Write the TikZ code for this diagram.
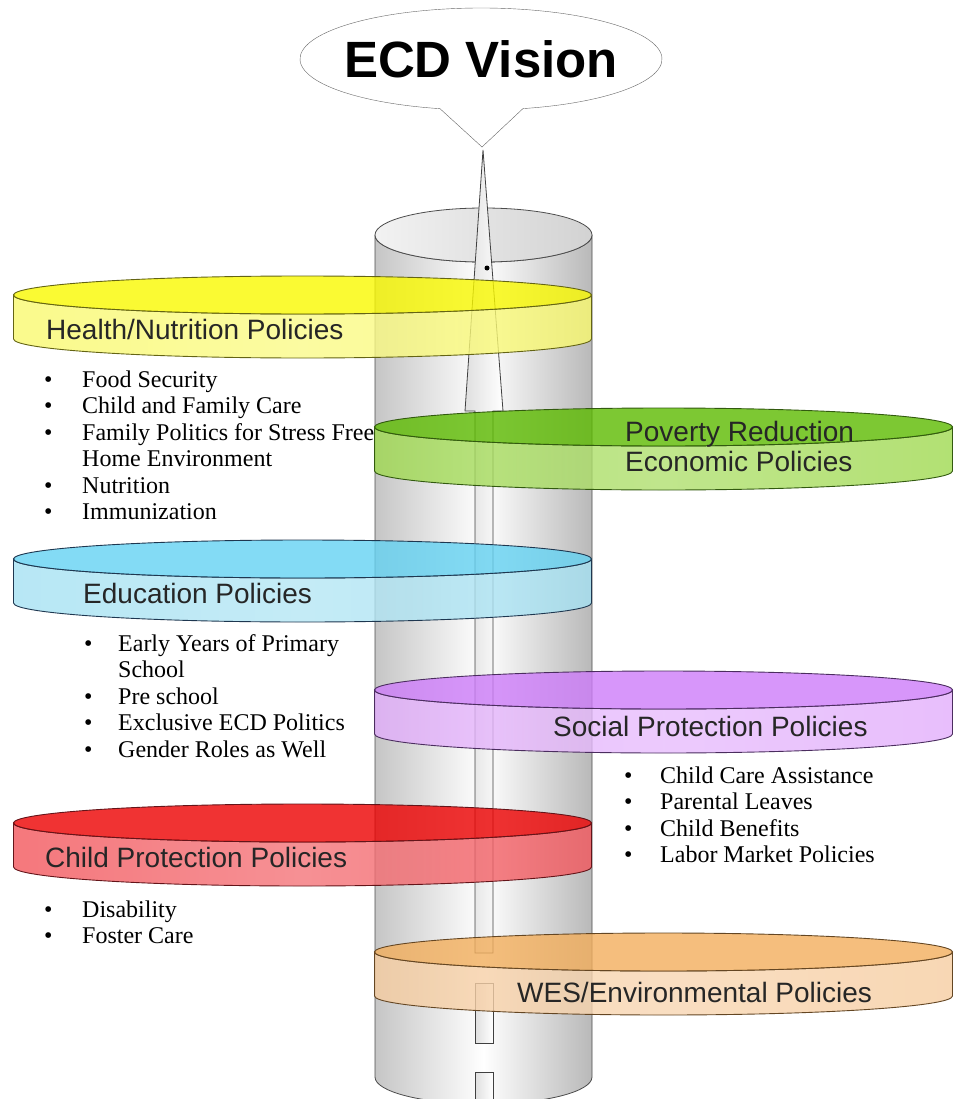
\documentclass[tikz,border=0pt]{standalone}
\usepackage{fontspec}
\setmainfont{Liberation Serif}
\newfontfamily\arialfont{Liberation Sans}
\usetikzlibrary{positioning}

\definecolor{healthtop}{RGB}{249,249,0}
\definecolor{healthband}{RGB}{249,249,111}
\definecolor{healthedge}{RGB}{100,100,20}
\definecolor{povertytop}{RGB}{92,186,0}
\definecolor{povertyband}{RGB}{159,217,80}
\definecolor{povertyedge}{RGB}{50,90,15}
\definecolor{educationtop}{RGB}{100,210,242}
\definecolor{educationband}{RGB}{165,225,242}
\definecolor{educationedge}{RGB}{30,55,80}
\definecolor{socialtop}{RGB}{205,124,249}
\definecolor{socialband}{RGB}{226,174,251}
\definecolor{socialedge}{RGB}{75,45,95}
\definecolor{childtop}{RGB}{236,0,0}
\definecolor{childband}{RGB}{242,86,92}
\definecolor{childedge}{RGB}{100,20,25}
\definecolor{westop}{RGB}{242,174,92}
\definecolor{wesband}{RGB}{246,205,161}
\definecolor{wesedge}{RGB}{100,70,35}

% flat see-through disk: centre of top ellipse (x,y), colour prefix
\newcommand{\policydisk}[3]{%
  \path[draw=#3edge, line width=0.9pt, fill opacity=0.8, left color=#3band, right color=#3band,
      middle color=#3band!82!white]
    (#1-289,#2) -- ++(0,-44) arc[start angle=180, end angle=360, x radius=289pt, y radius=19pt]
    -- ++(0,44) arc[start angle=0, end angle=-180, x radius=289pt, y radius=19pt] -- cycle;
  \path[draw=#3edge, line width=0.9pt, fill=#3top, fill opacity=0.8]
    (#1,#2) ellipse[x radius=289pt, y radius=19pt];
}

\begin{document}
\begin{tikzpicture}[x=1pt, y=1pt,
  disklabel/.style={font=\arialfont\fontsize{28}{30}\selectfont, text=black!85,
    inner sep=0pt, anchor=base west},
  itemlist/.style={font=\fontsize{24}{26.5}\selectfont, inner sep=0pt, anchor=base west},
  rod/.style={draw=black!70, line width=0.8pt, left color=gray!45, right color=gray!55,
    middle color=white},
  shaft/.style={draw=black!75, line width=0.8pt, left color=gray!25, right color=white}
]
\useasboundingbox (0,0) rectangle (954,-1099);

% pillar
\path[rod] (375,-235) -- (375,-1077)
  arc[start angle=180, end angle=360, x radius=108.5pt, y radius=27pt]
  -- (592,-235) arc[start angle=0, end angle=-180, x radius=108.5pt, y radius=27pt] -- cycle;
\path[draw=black!70, line width=0.8pt, left color=gray!10, right color=gray!35]
  (483.5,-235) ellipse[x radius=108.5pt, y radius=27pt];

% arrow up the pillar
\path[shaft] (483,-150) -- (503,-411) -- (493,-411) -- (493,-953)
  -- (475,-953) -- (475,-411) -- (465,-411) -- cycle;
\path[shaft] (475,-983) rectangle (493,-1043);
\path[shaft] (475,-1072) rectangle (493,-1115);
\fill (487,-268) circle[radius=2.5pt];

% vision bubble
\path[draw=black!60, fill=white] ([shift={(283.4:181pt and 51pt)}]481,-59)
  arc[start angle=283.4, end angle=616.9, x radius=181pt, y radius=51pt]
  -- (482,-147) -- cycle;
\node[font=\arialfont\bfseries\fontsize{51}{55}\selectfont, anchor=base, inner sep=0pt]
  (vision) at (481,-78) {ECD Vision};

% bullet lists
\node[itemlist] (healthlist) at (44,-387) {\begin{tabular}[t]{@{}p{38pt}@{}l@{}}
  \textbullet & Food Security\\
  \textbullet & Child and Family Care\\
  \textbullet & Family Politics for Stress Free\\
              & Home Environment\\
  \textbullet & Nutrition\\
  \textbullet & Immunization
\end{tabular}};
\node[itemlist] (educationlist) at (84,-651) {\begin{tabular}[t]{@{}p{34pt}@{}l@{}}
  \textbullet & Early Years of Primary\\
              & School\\
  \textbullet & Pre school\\
  \textbullet & Exclusive ECD Politics\\
  \textbullet & Gender Roles as Well
\end{tabular}};
\node[itemlist] (sociallist) at (624,-783) {\begin{tabular}[t]{@{}p{36pt}@{}l@{}}
  \textbullet & Child Care Assistance\\
  \textbullet & Parental Leaves\\
  \textbullet & Child Benefits\\
  \textbullet & Labor Market Policies
\end{tabular}};
\node[itemlist] (childlist) at (44,-917) {\begin{tabular}[t]{@{}p{38pt}@{}l@{}}
  \textbullet & Disability\\
  \textbullet & Foster Care
\end{tabular}};

% policy disks
\policydisk{302.5}{-295}{health}
\policydisk{663.5}{-427}{poverty}
\policydisk{302.5}{-559}{education}
\policydisk{663.5}{-690}{social}
\policydisk{302.5}{-823}{child}
\policydisk{663.5}{-952}{wes}

\node[disklabel] (healthlabel) at (46,-339) {Health/Nutrition Policies};
\node[disklabel] (povertylabel) at (625,-441) {Poverty Reduction};
\node[disklabel] (economiclabel) at (625,-471) {Economic Policies};
\node[disklabel] (educationlabel) at (83,-603) {Education Policies};
\node[disklabel] (sociallabel) at (553,-736) {Social Protection Policies};
\node[disklabel] (childlabel) at (45,-867) {Child Protection Policies};
\node[disklabel] (weslabel) at (517,-1002) {WES/Environmental Policies};
\end{tikzpicture}
\end{document}
